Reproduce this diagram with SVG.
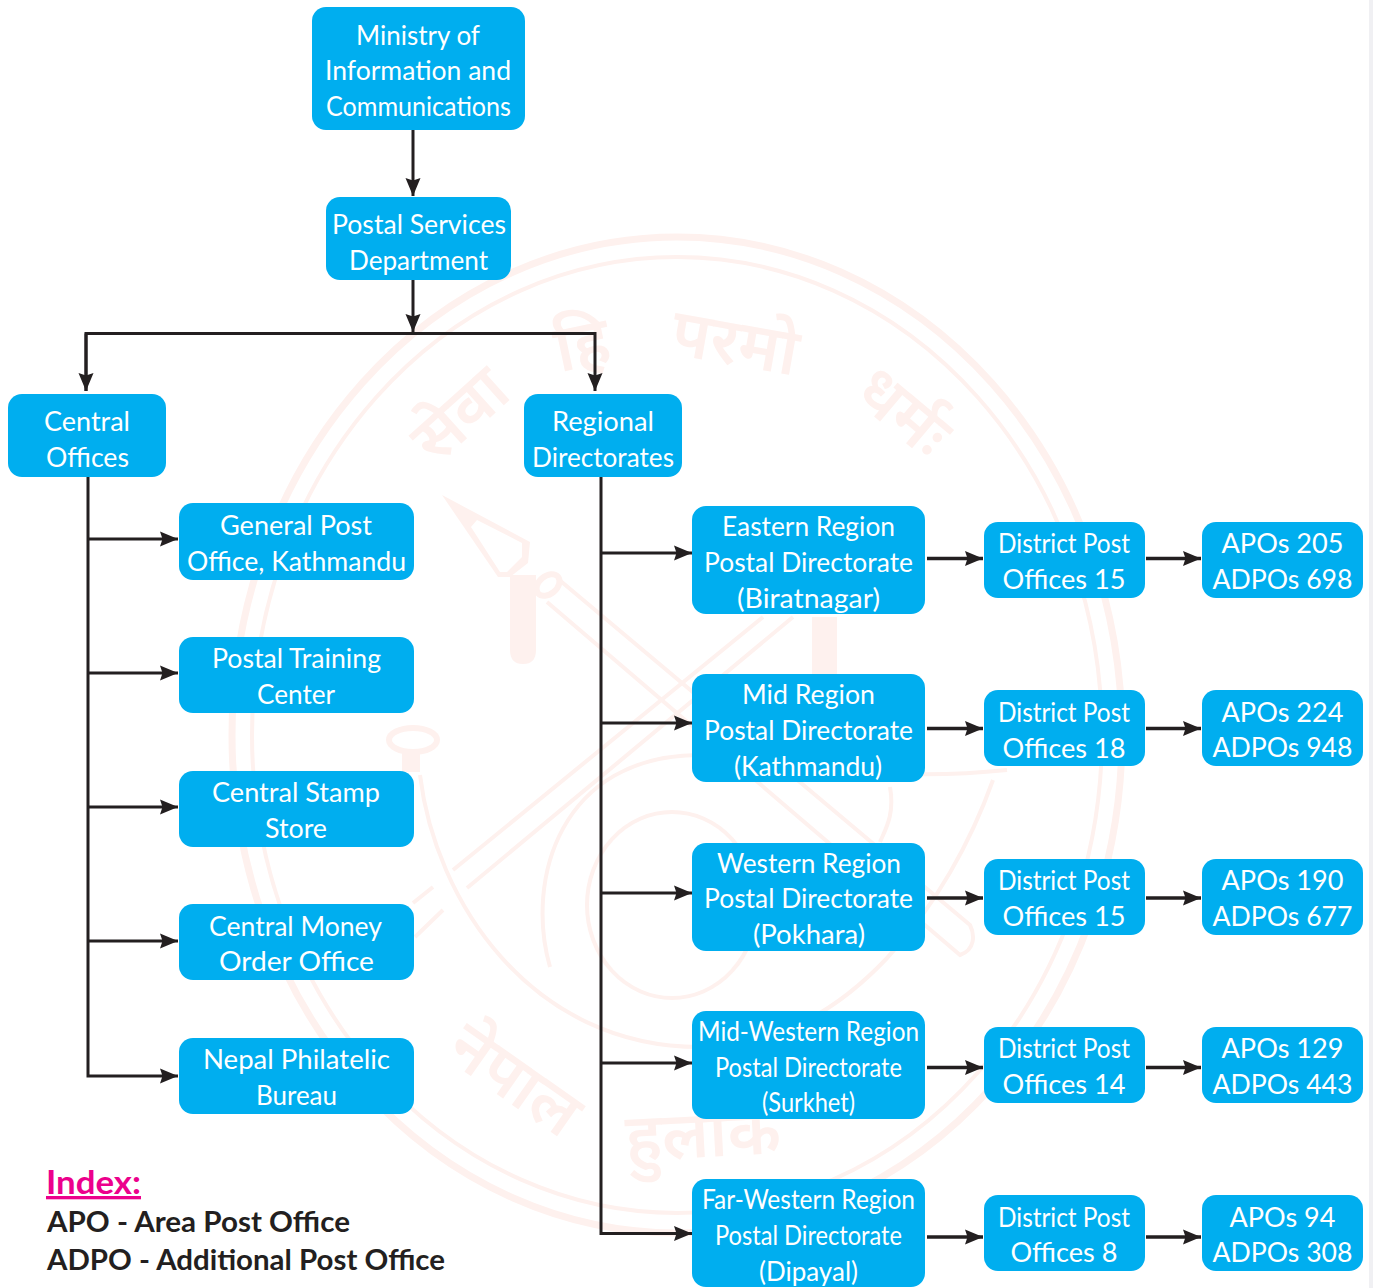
<svg xmlns="http://www.w3.org/2000/svg" width="1373" height="1288" viewBox="0 0 1373 1288">
<style>
.n{fill:#00aeef}
.t{font-family:"Lato","Noto Sans","Liberation Sans",sans-serif;font-size:27px;fill:#fff;text-anchor:middle}
.c{fill:none;stroke:#231f20;stroke-width:3}
.h{stroke-width:3.500}
.w{fill:none;stroke:#fef1ee}
.f{fill:#fef1ee}
.wt{font-family:"Noto Sans","Noto Sans Devanagari",sans-serif;font-size:66px;font-weight:600;fill:#fef1ee;text-anchor:middle}
.i{font-family:"Lato","Liberation Sans",sans-serif;font-weight:700;font-size:28px;fill:#231f20}
</style>
<defs>
<marker id="a" markerUnits="userSpaceOnUse" markerWidth="19" markerHeight="17" refX="18" refY="8" orient="auto"><path d="M0,0.500 L18,8 L0,15.500 L2.500,8 Z" fill="#231f20"/></marker>
</defs>
<rect width="1373" height="1288" fill="#fff"/>
<rect x="1369" width="4" height="1288" fill="#f0f0f3"/>
<g id="watermark">
<ellipse class="w" cx="677" cy="735" rx="445" ry="498" stroke-width="7"/>
<ellipse class="w" cx="677" cy="735" rx="425" ry="478" stroke-width="4"/>
<path class="w" stroke-width="4" d="M420,775 C435,900 530,1047 700,1047 C850,1047 950,900 993,780"/>
<ellipse class="w" cx="672" cy="905" rx="85" ry="93" stroke-width="4"/>
<path class="w" stroke-width="4" d="M550,967 C525,880 560,755 700,755 C780,755 860,785 1007,770"/>
<path class="w" stroke-width="4" d="M890,787 C895,815 885,830 880,842"/>
<path class="w" stroke-width="4" d="M557,578 L970,925 C975,935 975,950 960,955 L547,602"/>
<path class="w" stroke-width="4" d="M453,870 L763,617 M467,888 L793,617 M433,887 L413,903 M443,910 L415,937"/>
<path class="f" d="M442,495 L530,542 L528,563 L510,577 L498,577 Z"/>
<path fill="#fff" d="M477,520 L522,543 L522,557 L507,572 L500,572 L471,527 Z"/>
<path class="f" d="M510,575 H536 V650 Q536,664 523,664 Q510,664 510,650 Z"/>
<ellipse class="w" cx="548" cy="585" rx="13" ry="9" stroke-width="6" transform="rotate(-40 548 585)"/>
<rect class="f" x="812" y="617" width="25" height="57"/>
<ellipse class="w" cx="413" cy="740" rx="24" ry="12" stroke-width="6"/>
<rect class="f" x="402" y="752" width="18" height="20"/>
<text class="wt" transform="translate(460 415) rotate(-42) translate(0 22)">सेवा</text>
<text class="wt" transform="translate(582 345) rotate(-12) translate(0 22)">हि</text>
<text class="wt" transform="translate(735 343) rotate(10) translate(0 22)">परमो</text>
<text class="wt" transform="translate(903 412) rotate(40) translate(0 22)">धर्मः</text>
<text class="wt" transform="translate(515 1080) rotate(35) translate(0 22)">नेपाल</text>
<text class="wt" transform="translate(703 1135) rotate(-3) translate(0 22)">हुलाक</text>
</g>
<g id="connectors">
<path class="c" d="M413,130 V196" marker-end="url(#a)"/>
<path class="c" d="M413,280 V332" marker-end="url(#a)"/>
<path class="c" d="M86,391 V333.500 H595 V391" marker-end="url(#a)"/>
<path class="c" d="M86,333.500 V391" marker-end="url(#a)"/>
<path class="c" d="M88,477 V1076 H178" marker-end="url(#a)"/>
<path class="c" d="M88,539 H178" marker-end="url(#a)"/>
<path class="c" d="M88,673 H178" marker-end="url(#a)"/>
<path class="c" d="M88,807 H178" marker-end="url(#a)"/>
<path class="c" d="M88,941 H178" marker-end="url(#a)"/>
<path class="c" d="M601,477 V1233.500 H692" marker-end="url(#a)"/>
<path class="c" d="M601,553 H692" marker-end="url(#a)"/>
<path class="c" d="M601,723 H692" marker-end="url(#a)"/>
<path class="c" d="M601,893 H692" marker-end="url(#a)"/>
<path class="c" d="M601,1063 H692" marker-end="url(#a)"/>
<path class="c h" d="M927,558.500 H983" marker-end="url(#a)"/>
<path class="c h" d="M927,728.500 H983" marker-end="url(#a)"/>
<path class="c h" d="M927,898 H983" marker-end="url(#a)"/>
<path class="c h" d="M927,1067.500 H983" marker-end="url(#a)"/>
<path class="c h" d="M927,1237 H983" marker-end="url(#a)"/>
<path class="c h" d="M1146,558.500 H1201" marker-end="url(#a)"/>
<path class="c h" d="M1146,728.500 H1201" marker-end="url(#a)"/>
<path class="c h" d="M1146,898 H1201" marker-end="url(#a)"/>
<path class="c h" d="M1146,1067.500 H1201" marker-end="url(#a)"/>
<path class="c h" d="M1146,1237 H1201" marker-end="url(#a)"/>
</g>
<g id="ministry"><rect class="n" x="312" y="7" width="213" height="123" rx="14"/><text class="t" x="418" y="45" textLength="124" lengthAdjust="spacingAndGlyphs">Ministry of</text><text class="t" x="418" y="80" textLength="186" lengthAdjust="spacingAndGlyphs">Information and</text><text class="t" x="418.500" y="116" textLength="185" lengthAdjust="spacingAndGlyphs">Communications</text></g>
<g id="postal-services"><rect class="n" x="326" y="197" width="185" height="83" rx="14"/><text class="t" x="419" y="234" textLength="174" lengthAdjust="spacingAndGlyphs">Postal Services</text><text class="t" x="418.500" y="270" textLength="139" lengthAdjust="spacingAndGlyphs">Department</text></g>
<g id="central-offices"><rect class="n" x="8" y="394" width="158" height="83" rx="14"/><text class="t" x="87" y="431" textLength="86" lengthAdjust="spacingAndGlyphs">Central</text><text class="t" x="87.500" y="467" textLength="83" lengthAdjust="spacingAndGlyphs">Offices</text></g>
<g id="regional-directorates"><rect class="n" x="524" y="394" width="158" height="83" rx="14"/><text class="t" x="603" y="431" textLength="102" lengthAdjust="spacingAndGlyphs">Regional</text><text class="t" x="603" y="467" textLength="142" lengthAdjust="spacingAndGlyphs">Directorates</text></g>
<g id="general-post"><rect class="n" x="179" y="503" width="235" height="77" rx="14"/><text class="t" x="296" y="535" textLength="152" lengthAdjust="spacingAndGlyphs">General Post</text><text class="t" x="296.500" y="571" textLength="219" lengthAdjust="spacingAndGlyphs">Office, Kathmandu</text></g>
<g id="training"><rect class="n" x="179" y="637" width="235" height="76" rx="14"/><text class="t" x="296.500" y="668" textLength="169" lengthAdjust="spacingAndGlyphs">Postal Training</text><text class="t" x="296" y="704" textLength="78" lengthAdjust="spacingAndGlyphs">Center</text></g>
<g id="stamp"><rect class="n" x="179" y="771" width="235" height="76" rx="14"/><text class="t" x="296" y="802" textLength="168" lengthAdjust="spacingAndGlyphs">Central Stamp</text><text class="t" x="296" y="838" textLength="62" lengthAdjust="spacingAndGlyphs">Store</text></g>
<g id="money-order"><rect class="n" x="179" y="904" width="235" height="76" rx="14"/><text class="t" x="295.500" y="936" textLength="173" lengthAdjust="spacingAndGlyphs">Central Money</text><text class="t" x="296.500" y="971" textLength="155" lengthAdjust="spacingAndGlyphs">Order Office</text></g>
<g id="philatelic"><rect class="n" x="179" y="1038" width="235" height="76" rx="14"/><text class="t" x="296.500" y="1069" textLength="187" lengthAdjust="spacingAndGlyphs">Nepal Philatelic</text><text class="t" x="296.500" y="1105" textLength="81" lengthAdjust="spacingAndGlyphs">Bureau</text></g>
<g id="eastern"><rect class="n" x="692" y="506" width="233" height="108" rx="14"/><text class="t" x="808.500" y="536" textLength="173" lengthAdjust="spacingAndGlyphs">Eastern Region</text><text class="t" x="808.500" y="572" textLength="209" lengthAdjust="spacingAndGlyphs">Postal Directorate</text><text class="t" x="808.500" y="608" textLength="143" lengthAdjust="spacingAndGlyphs">(Biratnagar)</text></g>
<g id="mid"><rect class="n" x="692" y="674" width="233" height="108" rx="14"/><text class="t" x="808.500" y="704" textLength="133" lengthAdjust="spacingAndGlyphs">Mid Region</text><text class="t" x="808.500" y="740" textLength="209" lengthAdjust="spacingAndGlyphs">Postal Directorate</text><text class="t" x="808" y="776" textLength="148" lengthAdjust="spacingAndGlyphs">(Kathmandu)</text></g>
<g id="western"><rect class="n" x="692" y="843" width="233" height="108" rx="14"/><text class="t" x="809" y="873" textLength="184" lengthAdjust="spacingAndGlyphs">Western Region</text><text class="t" x="808.500" y="908" textLength="209" lengthAdjust="spacingAndGlyphs">Postal Directorate</text><text class="t" x="809" y="944" textLength="112" lengthAdjust="spacingAndGlyphs">(Pokhara)</text></g>
<g id="mid-western"><rect class="n" x="692" y="1011" width="233" height="108" rx="14"/><text class="t" x="808.500" y="1041" textLength="221" lengthAdjust="spacingAndGlyphs">Mid-Western Region</text><text class="t" x="808.500" y="1077" textLength="187" lengthAdjust="spacingAndGlyphs">Postal Directorate</text><text class="t" x="808.500" y="1112" textLength="93" lengthAdjust="spacingAndGlyphs">(Surkhet)</text></g>
<g id="far-western"><rect class="n" x="692" y="1179" width="233" height="108" rx="14"/><text class="t" x="808.500" y="1209" textLength="213" lengthAdjust="spacingAndGlyphs">Far-Western Region</text><text class="t" x="808.500" y="1245" textLength="187" lengthAdjust="spacingAndGlyphs">Postal Directorate</text><text class="t" x="808.500" y="1281" textLength="99" lengthAdjust="spacingAndGlyphs">(Dipayal)</text></g>
<g id="district-1"><rect class="n" x="984" y="522" width="161" height="76" rx="14"/><text class="t" x="1064" y="553" textLength="132" lengthAdjust="spacingAndGlyphs">District Post</text><text class="t" x="1064" y="589" textLength="123" lengthAdjust="spacingAndGlyphs">Offices 15</text></g>
<g id="district-2"><rect class="n" x="984" y="690" width="161" height="76" rx="14"/><text class="t" x="1064" y="722" textLength="132" lengthAdjust="spacingAndGlyphs">District Post</text><text class="t" x="1064" y="758" textLength="123" lengthAdjust="spacingAndGlyphs">Offices 18</text></g>
<g id="district-3"><rect class="n" x="984" y="859" width="161" height="76" rx="14"/><text class="t" x="1064" y="890" textLength="132" lengthAdjust="spacingAndGlyphs">District Post</text><text class="t" x="1064" y="926" textLength="123" lengthAdjust="spacingAndGlyphs">Offices 15</text></g>
<g id="district-4"><rect class="n" x="984" y="1027" width="161" height="76" rx="14"/><text class="t" x="1064" y="1058" textLength="132" lengthAdjust="spacingAndGlyphs">District Post</text><text class="t" x="1064" y="1094" textLength="123" lengthAdjust="spacingAndGlyphs">Offices 14</text></g>
<g id="district-5"><rect class="n" x="984" y="1195" width="161" height="76" rx="14"/><text class="t" x="1064" y="1227" textLength="132" lengthAdjust="spacingAndGlyphs">District Post</text><text class="t" x="1064" y="1262" textLength="107" lengthAdjust="spacingAndGlyphs">Offices 8</text></g>
<g id="apo-1"><rect class="n" x="1202" y="522" width="161" height="76" rx="14"/><text class="t" x="1282.500" y="553" textLength="122" lengthAdjust="spacingAndGlyphs">APOs 205</text><text class="t" x="1282.500" y="589" textLength="140" lengthAdjust="spacingAndGlyphs">ADPOs 698</text></g>
<g id="apo-2"><rect class="n" x="1202" y="690" width="161" height="76" rx="14"/><text class="t" x="1282.500" y="722" textLength="122" lengthAdjust="spacingAndGlyphs">APOs 224</text><text class="t" x="1282.500" y="757" textLength="140" lengthAdjust="spacingAndGlyphs">ADPOs 948</text></g>
<g id="apo-3"><rect class="n" x="1202" y="859" width="161" height="76" rx="14"/><text class="t" x="1282.500" y="890" textLength="122" lengthAdjust="spacingAndGlyphs">APOs 190</text><text class="t" x="1282.500" y="926" textLength="140" lengthAdjust="spacingAndGlyphs">ADPOs 677</text></g>
<g id="apo-4"><rect class="n" x="1202" y="1027" width="161" height="76" rx="14"/><text class="t" x="1282.500" y="1058" textLength="122" lengthAdjust="spacingAndGlyphs">APOs 129</text><text class="t" x="1282.500" y="1094" textLength="140" lengthAdjust="spacingAndGlyphs">ADPOs 443</text></g>
<g id="apo-5"><rect class="n" x="1202" y="1195" width="161" height="76" rx="14"/><text class="t" x="1282.500" y="1227" textLength="106" lengthAdjust="spacingAndGlyphs">APOs 94</text><text class="t" x="1282.500" y="1262" textLength="140" lengthAdjust="spacingAndGlyphs">ADPOs 308</text></g>
<g id="index">
<text x="46" y="1194" font-family="Lato,'Liberation Sans',sans-serif" font-weight="700" font-size="33" fill="#ec008c" text-decoration="underline" textLength="95" lengthAdjust="spacingAndGlyphs">Index:</text>
<text class="i" x="47" y="1232" textLength="303" lengthAdjust="spacingAndGlyphs">APO - Area Post Office</text>
<text class="i" x="47" y="1270" textLength="398" lengthAdjust="spacingAndGlyphs">ADPO - Additional Post Office</text>
</g>
</svg>
